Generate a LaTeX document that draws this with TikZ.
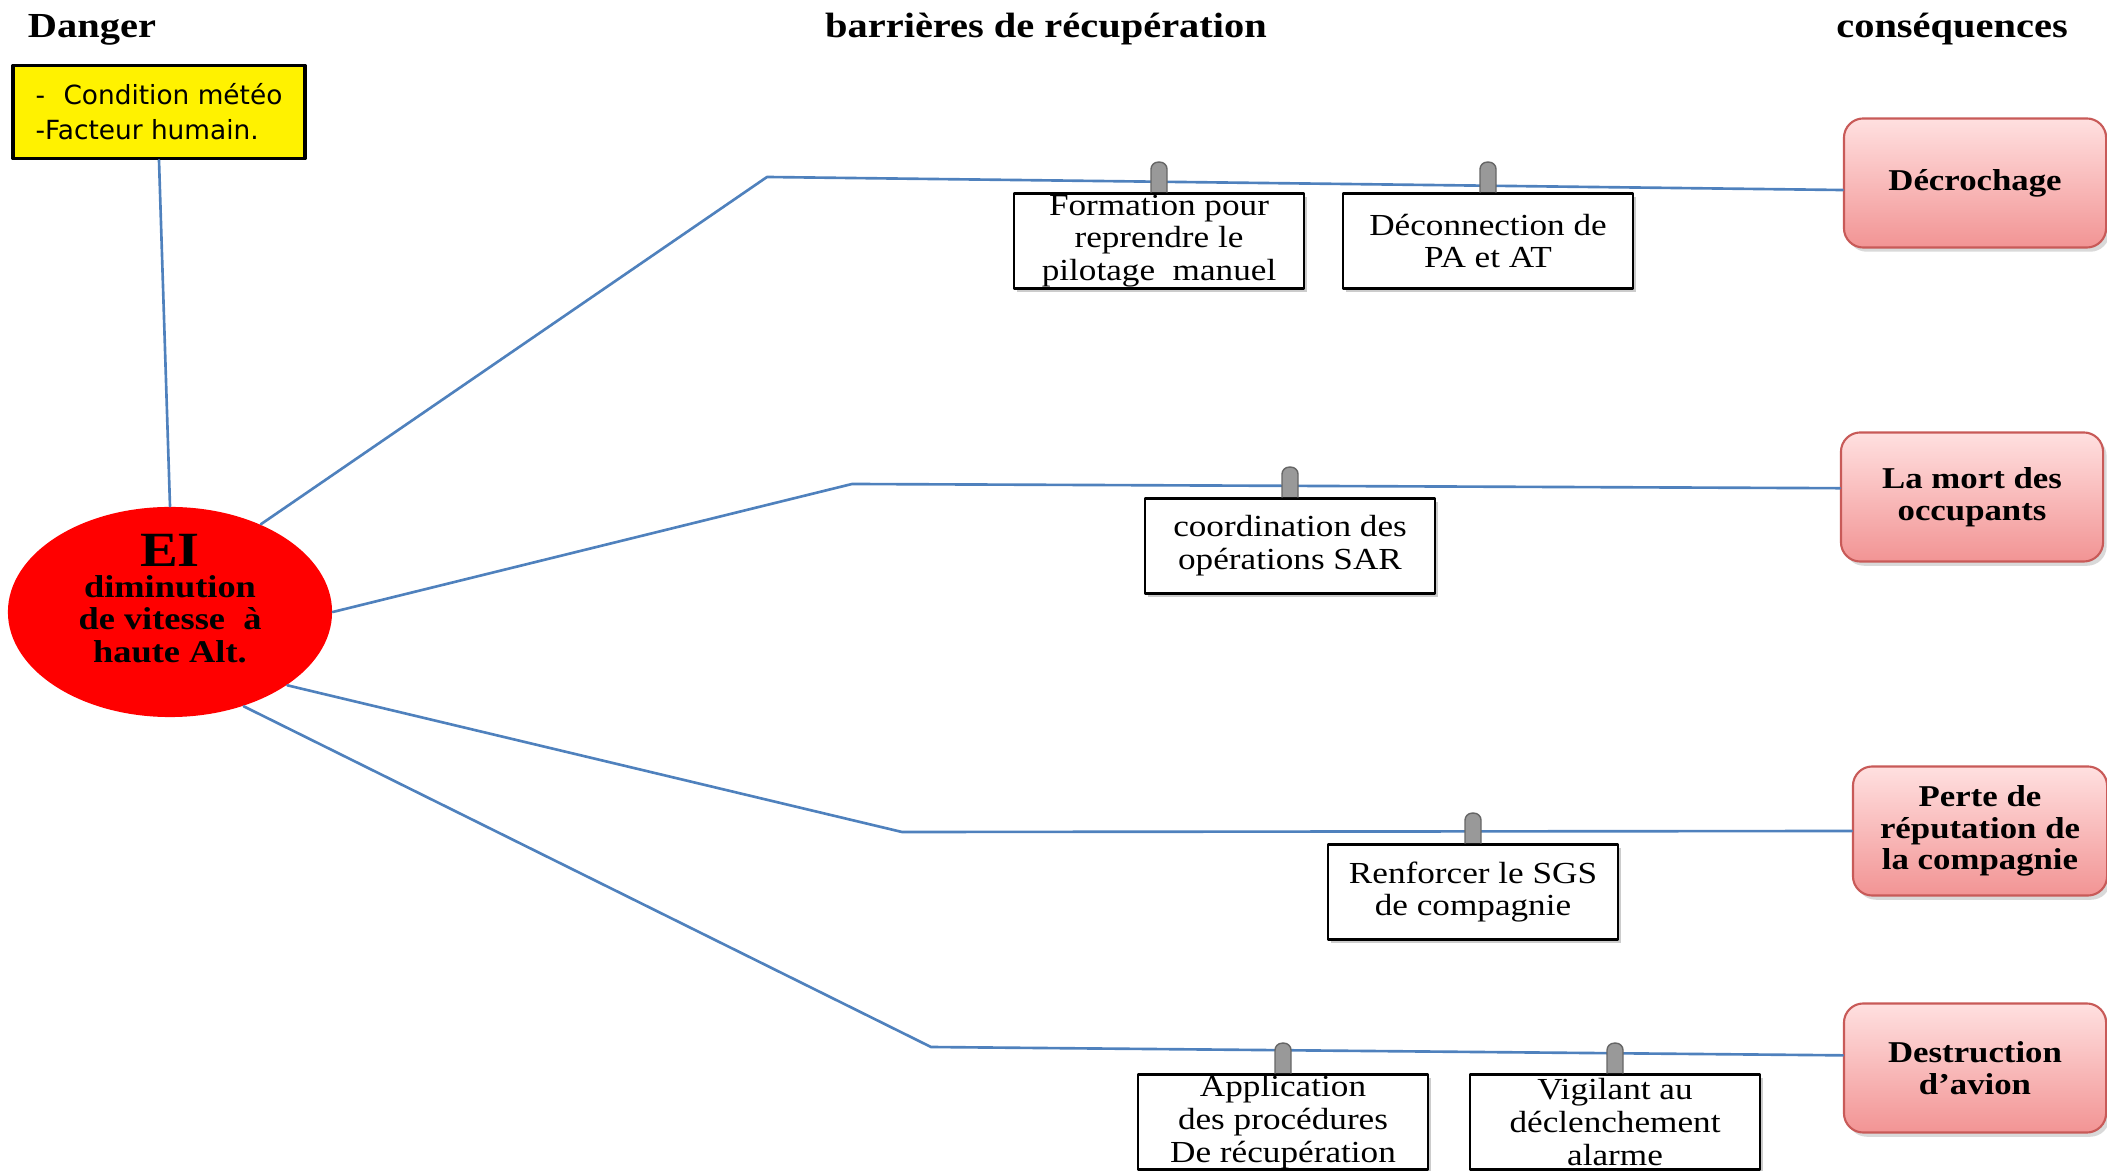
\documentclass[tikz,border=0pt]{standalone}
\usepackage{fontspec}
\setmainfont{Liberation Serif}[FakeStretch=1.15]
\newfontfamily\dangerfont{DejaVu Sans}
\usetikzlibrary{calc,shapes.geometric,shadows}

\definecolor{branchblue}{RGB}{79,129,189}
\definecolor{consborder}{RGB}{200,90,88}
\definecolor{constop}{RGB}{255,224,224}
\definecolor{consbot}{RGB}{242,148,148}
\definecolor{eired}{RGB}{255,0,0}

\begin{document}
\begin{tikzpicture}[x=0.01cm,y=-0.01cm,line cap=round,line join=round,
    branch/.style={draw=branchblue,line width=0.75pt},
    barrier/.style={draw,fill=white,line width=0.75pt,minimum width=2.9cm,minimum height=0.95cm,
      inner sep=0pt,align=center,font=\fontsize{8.7}{9.3}\selectfont,
      drop shadow={shadow xshift=0.9pt,shadow yshift=-0.9pt,opacity=0.4}},
    conseq/.style={draw=consborder,line width=0.6pt,rounded corners=5.5pt,
      top color=constop,bottom color=consbot,minimum width=2.62cm,minimum height=1.29cm,
      inner sep=0pt,align=center,font=\bfseries\fontsize{8.6}{9}\selectfont,
      drop shadow={shadow xshift=1pt,shadow yshift=-1.2pt,opacity=0.3}},
    heading/.style={font=\bfseries\fontsize{10}{12}\selectfont,anchor=base},
    peg/.style={draw=black!60,fill=black!40,line width=0.4pt,rounded corners=2pt}]
  \useasboundingbox (0,0) rectangle (2107,1171);

  \node[heading] (tdanger) at (92,38) {Danger};
  \node[heading] (tbarr) at (1046,38) {barrières de récupération};
  \node[heading] (tcons) at (1952,38) {conséquences};

  \node[draw,line width=1pt,fill=yellow,minimum width=2.92cm,minimum height=0.93cm,
    inner sep=0pt,align=left,font=\dangerfont\fontsize{7.5}{10}\selectfont]
    (danger) at (159,112) {-\hspace{0.7em}Condition météo\\-Facteur humain.};
  \node[ellipse,fill=eired,minimum width=3.24cm,minimum height=2.1cm,inner xsep=0pt,inner ysep=-6pt,
    align=center,font=\bfseries\fontsize{9}{9.2}\selectfont]
    (ei) at (170,612) {{\fontsize{14}{14}\selectfont EI}\\[-0.5pt]diminution\\de vitesse \ à\\haute Alt.\\[-1.5pt]\mbox{}};

  \node[conseq] (dec) at (1975,183) {Décrochage};
  \node[conseq] (mort) at (1972,497) {La mort des\\occupants};
  \node[conseq,minimum width=2.54cm] (perte) at (1980,831) {Perte de\\réputation de\\la compagnie};
  \node[conseq] (destr) at (1975,1068) {Destruction\\d’avion};

  \node[barrier] (form) at (1159,241) {Formation pour\\reprendre le\\pilotage \ manuel};
  \node[barrier] (decon) at (1488,241) {Déconnection de\\PA et AT};
  \node[barrier] (coord) at (1290,546) {coordination des\\opérations SAR};
  \node[barrier] (sgs) at (1473,892) {Renforcer le SGS\\de compagnie};
  \node[barrier] (appl) at (1283,1122) {Application\\des procédures\\De récupération};
  \node[barrier] (vigil) at (1615,1122) {Vigilant au\\déclenchement\\alarme};

  \coordinate (k1) at (767,177);
  \coordinate (k2) at (852,484);
  \coordinate (k3) at (902,832);
  \coordinate (k4) at (931,1047);
  \draw[branch] (danger.south) -- (ei.north);
  \draw[branch] (ei.44) -- (k1) -- ([yshift=-2pt]dec.west);
  \draw[branch] (ei.east) -- (k2) -- ([yshift=2.5pt]mort.west);
  \draw[branch] (ei.-32) -- (k3) -- (perte.west);
  \draw[branch] (ei.-52) -- (k4) -- ([yshift=3.6pt]destr.west);

  \foreach \b in {form,decon,coord,sgs,appl,vigil}
    \draw[peg] ($(\b.north)+(-8,0)$) -- ++(0,-30) -- ++(16,0) -- ++(0,30);
\end{tikzpicture}
\end{document}
